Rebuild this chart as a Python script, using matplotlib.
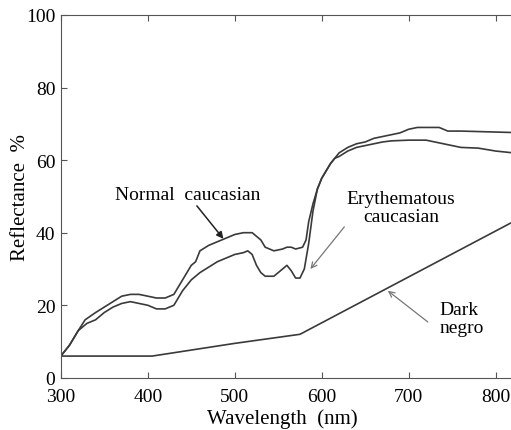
import matplotlib

matplotlib.use("Agg")
import matplotlib.pyplot as plt
import numpy as np

# normal caucasian (upper curve)
wl_normal = [300, 310, 320, 328, 340, 360, 370, 380, 390, 400, 410, 420, 430, 440, 450,
             455, 460, 470, 480, 490, 500, 510, 520, 530, 535, 545, 555, 560, 565, 570,
             578, 582, 585, 590, 595, 600, 610, 620, 630, 640, 650, 660, 670, 680, 690,
             700, 710, 720, 735, 745, 760, 820]
refl_normal = [6, 9, 13, 16, 18, 21, 22.5, 23, 23, 22.5, 22, 22, 23, 27, 31,
               32, 35, 36.5, 37.5, 38.5, 39.5, 40, 40, 38, 36, 35, 35.5, 36, 36, 35.5,
               36, 38, 43, 48, 52, 55, 59, 62, 63.5, 64.5, 65, 66, 66.5, 67, 67.5,
               68.5, 69, 69, 69, 68, 68, 67.6]

# erythematous caucasian (lower curve)
wl_ery = [300, 310, 320, 330, 340, 350, 360, 370, 380, 390, 400, 410, 420, 430, 440,
          450, 460, 470, 480, 490, 500, 510, 515, 520, 525, 530, 535, 545, 555, 560,
          565, 570, 575, 580, 585, 590, 595, 600, 610, 615, 620, 630, 640, 650, 660,
          670, 680, 700, 720, 740, 760, 780, 800, 820]
refl_ery = [6, 9, 13, 15, 16, 18, 19.5, 20.5, 21, 20.5, 20, 19, 19, 20, 24,
            27, 29, 30.5, 32, 33, 34, 34.5, 35, 34, 31, 29, 28, 28, 30, 31,
            29.5, 27.5, 27.5, 30, 37, 46, 52, 55, 59, 60.5, 61, 62.5, 63.5, 64, 64.5,
            65, 65.3, 65.5, 65.5, 64.5, 63.5, 63.3, 62.5, 62]

# dark negro
wl_dark = [300, 405, 500, 575, 820]
refl_dark = [6, 6, 9.5, 12, 43]

plt.rcParams["font.family"] = ["Liberation Serif", "DejaVu Serif"]

fig = plt.figure(figsize=(5.11, 4.31), dpi=100)
ax = fig.add_axes([0.119, 0.121, 0.885, 0.842])

lc = "#3a3a3a"
ax.plot(wl_normal, refl_normal, color=lc, lw=1.2)
ax.plot(wl_ery, refl_ery, color=lc, lw=1.2)
ax.plot(wl_dark, refl_dark, color=lc, lw=1.2)

ax.set_xlim(300, 820)
ax.set_ylim(0, 100)
ax.set_xticks([300, 400, 500, 600, 700, 800])
ax.set_yticks([0, 20, 40, 60, 80, 100])
ax.tick_params(direction="in", top=True, right=False, labelsize=14, length=4,
               color="#555555")
ax.tick_params(axis="x", pad=7)
ax.tick_params(axis="y", pad=4)
for s in ax.spines.values():
    s.set_color("#555555")
ax.spines["right"].set_visible(False)

ax.set_xlabel("Wavelength  (nm)", fontsize=15)
ax.set_ylabel("Reflectance  %", fontsize=15)
ax.xaxis.set_label_coords(0.49, -0.083)
ax.yaxis.set_label_coords(-0.069, 0.5)

ax.annotate("Normal  caucasian", xy=(487, 38.3), xytext=(446, 50.5),
            ha="center", va="center", fontsize=14,
            arrowprops=dict(arrowstyle="-|>", color="#222222", lw=1.1,
                            shrinkA=0, shrinkB=0, mutation_scale=10))
ax.annotate("", xy=(587, 30), xytext=(626, 41.6),
            arrowprops=dict(arrowstyle="->", color="#777777", lw=0.9,
                            shrinkA=0, shrinkB=0))
ax.text(691, 47, "Erythematous\ncaucasian", ha="center", va="center",
        fontsize=14, linespacing=1.1)
ax.annotate("", xy=(676, 24), xytext=(722, 15.4),
            arrowprops=dict(arrowstyle="->", color="#777777", lw=0.9,
                            shrinkA=0, shrinkB=0))
ax.text(735, 16.3, "Dark\nnegro", ha="left", va="center",
        fontsize=14, linespacing=1.1)

fig.savefig("out.png", dpi=100)
